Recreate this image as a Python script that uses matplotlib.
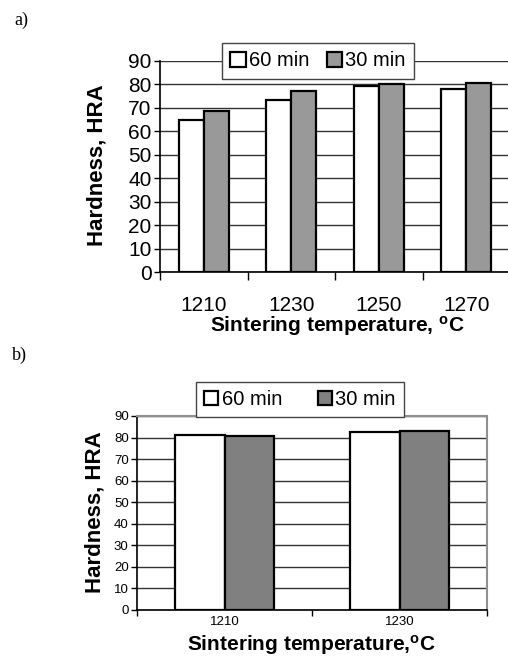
import matplotlib
matplotlib.use("Agg")
import matplotlib.pyplot as plt
from matplotlib.patches import Patch
import numpy as np

plt.rcParams['font.family'] = ['Liberation Sans', 'DejaVu Sans']
plt.rcParams['mathtext.fontset'] = 'custom'
plt.rcParams['mathtext.rm'] = 'Liberation Sans:bold'
plt.rcParams['mathtext.it'] = 'Liberation Sans:bold'
plt.rcParams['mathtext.bf'] = 'Liberation Sans:bold'

# panel a
temps_a = ['1210', '1230', '1250', '1270']
hard_a_60 = [65, 73.5, 79.5, 78]
hard_a_30 = [68.5, 77, 80.3, 80.5]
# panel b
temps_b = ['1210', '1230']
hard_b_60 = [81, 82.7]
hard_b_30 = [80.7, 83.2]
series = ['60 min', '30 min']
yticks = list(range(0, 91, 10))

W, H = 508, 661
fig = plt.figure(figsize=(W / 100, H / 100), dpi=100)


def fx(px):
    return px / W


def fy(py):
    return 1 - py / H


def panel(rect, temps, v60, v30, gray, fs_tick, pad, tick_len, frame):
    ax = fig.add_axes(rect)
    x = np.arange(len(temps))
    bw = 0.285
    ax.bar(x - bw / 2, v60, bw, color='white', edgecolor='black', lw=1.6, zorder=3)
    ax.bar(x + bw / 2, v30, bw, color=gray, edgecolor='black', lw=1.6, zorder=3)
    ax.set_xlim(-0.5, len(temps) - 0.5)
    ax.set_ylim(0, 90)
    ax.set_yticks(yticks)
    ax.tick_params(axis='y', labelsize=fs_tick, length=4, width=1, pad=2)
    ax.set_xticks(np.arange(len(temps) + 1) - 0.5)
    ax.set_xticklabels([])
    ax.tick_params(axis='x', which='major', length=tick_len, width=1, direction='out')
    ax.set_xticks(x, minor=True)
    ax.set_xticklabels(temps, minor=True)
    ax.tick_params(axis='x', which='minor', length=0, labelsize=fs_tick, pad=pad)
    ax.set_axisbelow(True)
    ax.yaxis.grid(True, color='#333333', lw=1)
    for s in ['left', 'bottom']:
        ax.spines[s].set_color('black')
        ax.spines[s].set_linewidth(1.2)
    if frame:
        for s in ['top', 'right']:
            ax.spines[s].set_color('#909090')
            ax.spines[s].set_linewidth(1.5)
    else:
        ax.spines['top'].set_visible(False)
        ax.spines['right'].set_visible(False)
    return ax


# panel a: plot area from x=160 to 510, y=61 to 272
ax1 = panel([fx(160), fy(272), fx(350), (272 - 61) / H], temps_a, hard_a_60, hard_a_30,
            '#999999', 15, 17, 6, False)
# panel b: plot area from x=137 to 487, y=416 to 610
ax2 = panel([fx(137), fy(610), fx(350), (610 - 416) / H], temps_b, hard_b_60, hard_b_30,
            '#808080', 9.5, 4, 4, True)

handles_a = [Patch(facecolor='white', edgecolor='black', lw=1.6),
             Patch(facecolor='#999999', edgecolor='black', lw=1.6)]
handles_b = [Patch(facecolor='white', edgecolor='black', lw=1.6),
             Patch(facecolor='#808080', edgecolor='black', lw=1.6)]

leg1 = fig.legend(handles_a, series, loc='center', bbox_to_anchor=(fx(318), fy(61)),
                  ncol=2, fontsize=14.5, frameon=True, fancybox=False, framealpha=1,
                  edgecolor='#444444', handlelength=0.75, handleheight=0.75,
                  handletextpad=0.15, columnspacing=0.9, borderpad=0.4, borderaxespad=0)
leg1.get_frame().set_linewidth(1)
leg2 = fig.legend(handles_b, series, loc='center', bbox_to_anchor=(fx(300), fy(399.5)),
                  ncol=2, fontsize=14.5, frameon=True, fancybox=False, framealpha=1,
                  edgecolor='#444444', handlelength=0.7, handleheight=0.7,
                  handletextpad=0.15, columnspacing=1.8, borderpad=0.4, borderaxespad=0)
leg2.get_frame().set_linewidth(1)

# axis titles
fig.text(fx(97), fy(165), 'Hardness, HRA', rotation=90, ha='center', va='center',
         fontsize=16, fontweight='bold')
fig.text(fx(95), fy(512), 'Hardness, HRA', rotation=90, ha='center', va='center',
         fontsize=16, fontweight='bold')
fig.text(fx(337), fy(332), r'Sintering temperature, $^{\mathrm{o}}$C', ha='center',
         va='baseline', fontsize=15, fontweight='bold')
fig.text(fx(311), fy(651), r'Sintering temperature,$^{\mathrm{o}}$C', ha='center',
         va='baseline', fontsize=15, fontweight='bold')

# panel letters
fig.text(fx(14), fy(25), 'a)', family='Liberation Serif', fontsize=13)
fig.text(fx(12), fy(360), 'b)', family='Liberation Serif', fontsize=13)

fig.savefig('out.png', dpi=100)
